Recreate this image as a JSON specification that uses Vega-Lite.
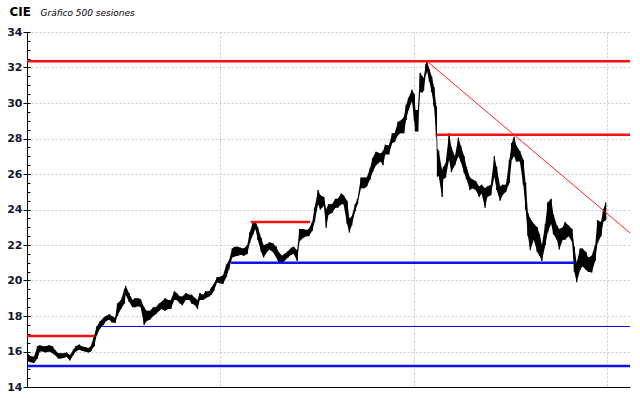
{
  "$schema": "https://vega.github.io/schema/vega-lite/v6.json",
  "width": 603,
  "height": 355,
  "autosize": "none",
  "padding": {"left": 27, "top": 32, "right": 10, "bottom": 11},
  "background": "white",
  "config": {"view": {"stroke": null}},
  "resolve": {"axis": {"y": "independent"}},
  "datasets": {
    "precios": [
      {"s":1,"lo":15.45,"hi":15.85},{"s":3,"lo":15.4,"hi":15.75},{"s":6,"lo":15.35,"hi":15.7},{"s":9,"lo":15.6,"hi":16.3},
      {"s":11,"lo":16.0,"hi":16.35},{"s":14,"lo":16.0,"hi":16.3},{"s":16,"lo":15.95,"hi":16.3},{"s":19,"lo":16.0,"hi":16.35},
      {"s":22,"lo":15.9,"hi":16.3},{"s":24,"lo":15.8,"hi":16.1},{"s":27,"lo":15.6,"hi":15.9},{"s":29,"lo":15.6,"hi":15.9},
      {"s":32,"lo":15.65,"hi":15.9},{"s":34,"lo":15.7,"hi":15.95},{"s":37,"lo":15.5,"hi":15.8},{"s":40,"lo":15.8,"hi":16.1},
      {"s":42,"lo":16.0,"hi":16.3},{"s":45,"lo":16.1,"hi":16.4},{"s":47,"lo":16.05,"hi":16.3},{"s":50,"lo":16.0,"hi":16.25},
      {"s":53,"lo":15.95,"hi":16.2},{"s":55,"lo":16.0,"hi":16.3},{"s":58,"lo":16.3,"hi":16.9},{"s":60,"lo":16.9,"hi":17.4},
      {"s":63,"lo":17.3,"hi":17.7},{"s":66,"lo":17.5,"hi":17.9},{"s":68,"lo":17.7,"hi":18.0},{"s":71,"lo":17.8,"hi":18.1},
      {"s":73,"lo":17.65,"hi":18.0},{"s":76,"lo":17.6,"hi":17.9},{"s":78,"lo":18.0,"hi":18.7},{"s":81,"lo":18.4,"hi":18.9},
      {"s":84,"lo":18.7,"hi":19.5},{"s":85,"lo":19.2,"hi":19.7},{"s":88,"lo":18.8,"hi":19.3},{"s":91,"lo":18.5,"hi":18.9},
      {"s":93,"lo":18.5,"hi":19.0},{"s":96,"lo":18.55,"hi":19.0},{"s":98,"lo":18.5,"hi":18.95},{"s":101,"lo":17.5,"hi":18.5},
      {"s":103,"lo":17.7,"hi":18.3},{"s":106,"lo":17.8,"hi":18.3},{"s":109,"lo":18.0,"hi":18.5},{"s":111,"lo":18.1,"hi":18.5},
      {"s":114,"lo":18.3,"hi":18.7},{"s":116,"lo":18.4,"hi":18.8},{"s":119,"lo":18.3,"hi":19.0},{"s":122,"lo":18.4,"hi":18.9},
      {"s":124,"lo":18.4,"hi":18.9},{"s":127,"lo":18.9,"hi":19.4},{"s":129,"lo":18.9,"hi":19.3},{"s":132,"lo":18.7,"hi":19.1},
      {"s":134,"lo":18.6,"hi":19.1},{"s":137,"lo":18.9,"hi":19.3},{"s":140,"lo":18.9,"hi":19.2},{"s":142,"lo":18.7,"hi":19.2},
      {"s":145,"lo":18.6,"hi":19.0},{"s":147,"lo":18.4,"hi":18.9},{"s":149,"lo":18.9,"hi":19.3},{"s":152,"lo":18.9,"hi":19.2},
      {"s":154,"lo":19.0,"hi":19.4},{"s":157,"lo":19.1,"hi":19.4},{"s":159,"lo":19.2,"hi":19.6},{"s":161,"lo":19.4,"hi":19.8},
      {"s":164,"lo":19.9,"hi":20.2},{"s":166,"lo":19.85,"hi":20.2},{"s":169,"lo":19.8,"hi":20.3},{"s":172,"lo":20.2,"hi":20.9},
      {"s":174,"lo":20.6,"hi":21.1},{"s":177,"lo":21.3,"hi":21.8},{"s":179,"lo":21.35,"hi":21.9},{"s":182,"lo":21.4,"hi":21.9},
      {"s":184,"lo":21.45,"hi":21.85},{"s":187,"lo":21.4,"hi":21.8},{"s":190,"lo":21.5,"hi":22.0},{"s":192,"lo":22.1,"hi":22.7},
      {"s":195,"lo":22.6,"hi":23.3},{"s":197,"lo":22.9,"hi":23.35},{"s":199,"lo":22.3,"hi":23.0},{"s":202,"lo":21.6,"hi":22.4},
      {"s":204,"lo":21.3,"hi":22.0},{"s":207,"lo":21.6,"hi":22.05},{"s":209,"lo":21.75,"hi":22.15},{"s":212,"lo":21.6,"hi":22.1},
      {"s":215,"lo":21.3,"hi":21.9},{"s":217,"lo":21.0,"hi":21.6},{"s":220,"lo":20.95,"hi":21.4},{"s":222,"lo":21.1,"hi":21.5},
      {"s":225,"lo":21.3,"hi":21.65},{"s":228,"lo":21.45,"hi":21.85},{"s":230,"lo":21.5,"hi":21.9},{"s":233,"lo":21.1,"hi":21.7},
      {"s":235,"lo":22.2,"hi":22.9},{"s":238,"lo":22.4,"hi":22.9},{"s":241,"lo":22.5,"hi":22.85},{"s":243,"lo":22.5,"hi":22.9},
      {"s":246,"lo":22.8,"hi":23.3},{"s":248,"lo":23.3,"hi":24.1},{"s":251,"lo":24.3,"hi":25.1},{"s":253,"lo":24.0,"hi":24.8},
      {"s":256,"lo":24.2,"hi":24.7},{"s":258,"lo":22.97,"hi":24.0},{"s":260,"lo":23.7,"hi":24.3},{"s":263,"lo":23.8,"hi":24.3},
      {"s":266,"lo":24.1,"hi":24.6},{"s":268,"lo":24.1,"hi":24.6},{"s":271,"lo":24.3,"hi":24.9},{"s":273,"lo":24.3,"hi":24.8},
      {"s":276,"lo":23.2,"hi":24.5},{"s":278,"lo":22.7,"hi":23.5},{"s":280,"lo":23.1,"hi":23.6},{"s":283,"lo":23.9,"hi":24.3},
      {"s":285,"lo":24.3,"hi":24.6},{"s":288,"lo":25.2,"hi":25.8},{"s":291,"lo":25.2,"hi":25.8},{"s":293,"lo":25.3,"hi":25.8},
      {"s":296,"lo":25.7,"hi":26.35},{"s":298,"lo":26.1,"hi":26.9},{"s":301,"lo":26.5,"hi":27.25},{"s":303,"lo":26.6,"hi":27.2},
      {"s":305,"lo":26.7,"hi":27.15},{"s":307,"lo":26.5,"hi":27.3},{"s":309,"lo":27.1,"hi":27.65},{"s":312,"lo":27.1,"hi":27.6},
      {"s":315,"lo":27.75,"hi":28.3},{"s":317,"lo":27.8,"hi":28.3},{"s":320,"lo":28.2,"hi":28.95},{"s":322,"lo":28.3,"hi":29.0},
      {"s":325,"lo":28.3,"hi":29.2},{"s":327,"lo":29.05,"hi":29.9},{"s":329,"lo":29.6,"hi":30.3},{"s":332,"lo":30.1,"hi":30.75},
      {"s":334,"lo":29.0,"hi":30.5},{"s":335,"lo":28.4,"hi":29.6},{"s":337,"lo":28.4,"hi":29.6},{"s":339,"lo":30.6,"hi":31.7},
      {"s":341,"lo":30.6,"hi":31.5},{"s":342,"lo":30.7,"hi":31.4},{"s":344,"lo":31.6,"hi":32.2},{"s":345,"lo":31.8,"hi":32.35},
      {"s":347,"lo":31.2,"hi":31.9},{"s":349,"lo":30.6,"hi":31.5},{"s":351,"lo":29.8,"hi":30.9},{"s":353,"lo":28.1,"hi":29.8},
      {"s":354,"lo":25.85,"hi":27.4},{"s":355,"lo":25.9,"hi":27.3},{"s":358,"lo":24.7,"hi":26.2},{"s":359,"lo":25.7,"hi":26.4},
      {"s":361,"lo":25.8,"hi":26.6},{"s":364,"lo":26.8,"hi":28.3},{"s":366,"lo":26.1,"hi":27.5},{"s":369,"lo":26.5,"hi":27.0},
      {"s":372,"lo":27.0,"hi":28.05},{"s":374,"lo":26.7,"hi":27.6},{"s":377,"lo":26.05,"hi":27.0},{"s":379,"lo":25.7,"hi":26.4},
      {"s":382,"lo":25.1,"hi":25.8},{"s":384,"lo":25.2,"hi":25.7},{"s":387,"lo":25.1,"hi":25.6},{"s":390,"lo":24.7,"hi":25.3},
      {"s":392,"lo":24.9,"hi":25.4},{"s":395,"lo":24.1,"hi":25.2},{"s":397,"lo":24.7,"hi":25.3},{"s":400,"lo":24.8,"hi":25.4},
      {"s":403,"lo":25.85,"hi":27.0},{"s":405,"lo":25.1,"hi":26.4},{"s":408,"lo":24.5,"hi":25.3},{"s":410,"lo":24.8,"hi":25.4},
      {"s":413,"lo":25.0,"hi":25.4},{"s":416,"lo":25.5,"hi":26.8},{"s":418,"lo":26.8,"hi":27.75},{"s":420,"lo":27.0,"hi":28.1},
      {"s":422,"lo":26.7,"hi":27.6},{"s":425,"lo":26.7,"hi":27.3},{"s":428,"lo":25.4,"hi":26.8},{"s":430,"lo":24.0,"hi":25.5},
      {"s":432,"lo":22.5,"hi":23.8},{"s":434,"lo":21.7,"hi":23.5},{"s":437,"lo":22.3,"hi":23.2},{"s":440,"lo":21.6,"hi":23.0},
      {"s":442,"lo":21.4,"hi":22.6},{"s":444,"lo":21.1,"hi":22.0},{"s":447,"lo":22.0,"hi":23.2},{"s":449,"lo":22.7,"hi":24.4},
      {"s":452,"lo":23.2,"hi":24.6},{"s":454,"lo":22.6,"hi":23.7},{"s":457,"lo":22.3,"hi":23.1},{"s":459,"lo":21.75,"hi":22.9},
      {"s":462,"lo":22.3,"hi":23.0},{"s":464,"lo":22.3,"hi":23.3},{"s":467,"lo":22.5,"hi":23.1},{"s":470,"lo":22.2,"hi":22.9},
      {"s":472,"lo":20.5,"hi":21.9},{"s":474,"lo":19.9,"hi":21.0},{"s":477,"lo":20.6,"hi":21.8},{"s":479,"lo":20.8,"hi":21.8},
      {"s":482,"lo":20.6,"hi":21.6},{"s":484,"lo":20.5,"hi":21.3},{"s":487,"lo":20.45,"hi":21.4},{"s":490,"lo":21.1,"hi":22.0},
      {"s":492,"lo":22.1,"hi":23.4},{"s":495,"lo":22.5,"hi":23.3},{"s":497,"lo":23.3,"hi":24.0},{"s":499,"lo":23.4,"hi":24.4}
    ]
  },
  "layer": [
    {
      "data": {"name": "precios"},
      "mark": {"type": "area", "color": "black"},
      "encoding": {
        "x": {"field": "s", "type": "quantitative", "scale": {"domain": [0, 520], "nice": false, "zero": false},
          "axis": {"values": [166.67, 333.33, 500], "labels": false, "ticks": false, "domain": true, "domainColor": "black", "domainWidth": 1,
            "grid": true, "gridColor": "#c8c8c8", "gridDash": [2, 2], "gridWidth": 1,
            "title": "Gráfico 500 sesiones", "titleX": 13, "titleY": -372, "titleAlign": "left", "titleBaseline": "alphabetic", "titleAnchor": null,
            "titleFont": "DejaVu Sans", "titleFontSize": 9, "titleFontStyle": "italic", "titleFontWeight": "normal", "titleColor": "black"}},
        "y": {"field": "lo", "type": "quantitative", "scale": {"domain": [14, 34], "nice": false, "zero": false},
          "axis": {"values": [14,16,18,20,22,24,26,28,30,32,34], "labelOverlap": false,
            "tickSize": 4, "tickColor": "black", "domainColor": "black",
            "grid": true, "gridColor": "#c8c8c8", "gridDash": [2, 2],
            "labelFont": "DejaVu Sans", "labelFontSize": 11, "labelFontWeight": "bold", "labelColor": "#151530", "labelPadding": 1,
            "title": "CIE", "titleAngle": 0, "titleX": -18, "titleY": -17, "titleAlign": "left", "titleBaseline": "alphabetic", "titleAnchor": null,
            "titleFont": "DejaVu Sans", "titleFontSize": 12, "titleFontWeight": "bold", "titleColor": "black"}},
        "y2": {"field": "hi"}
      }
    },
    {
      "data": {"name": "precios"},
      "mark": {"type": "rule", "color": "black", "strokeWidth": 1.3},
      "encoding": {
        "x": {"field": "s", "type": "quantitative"},
        "y": {"field": "lo", "type": "quantitative",
          "axis": {"orient": "left", "offset": 0, "values": [14,14.5,15,15.5,16,16.5,17,17.5,18,18.5,19,19.5,20,20.5,21,21.5,22,22.5,23,23.5,24,24.5,25,25.5,26,26.5,27,27.5,28,28.5,29,29.5,30,30.5,31,31.5,32,32.5,33,33.5,34],
            "labels": false, "domain": false, "grid": false, "ticks": true, "tickSize": -3, "tickColor": "black", "title": null}},
        "y2": {"field": "hi"}
      }
    },
    {
      "data": {"values": [{"desde": 0, "hasta": 520, "precio": 32.35}, {"desde": 353, "hasta": 520, "precio": 28.21}, {"desde": 193, "hasta": 244, "precio": 23.3}, {"desde": 0, "hasta": 58, "precio": 16.87}]},
      "mark": {"type": "rule", "color": "#f21010", "strokeWidth": 2.6},
      "encoding": {
        "x": {"field": "desde", "type": "quantitative"},
        "x2": {"field": "hasta"},
        "y": {"field": "precio", "type": "quantitative", "axis": null}
      }
    },
    {
      "data": {"values": [{"desde": 176, "hasta": 472, "precio": 21.0}, {"desde": 0, "hasta": 520, "precio": 15.18}]},
      "mark": {"type": "rule", "color": "#1010f2", "strokeWidth": 2.6},
      "encoding": {
        "x": {"field": "desde", "type": "quantitative"},
        "x2": {"field": "hasta"},
        "y": {"field": "precio", "type": "quantitative", "axis": null}
      }
    },
    {
      "data": {"values": [{"desde": 65, "hasta": 520, "precio": 17.41}]},
      "mark": {"type": "rule", "color": "#0000ee", "strokeWidth": 1},
      "encoding": {
        "x": {"field": "desde", "type": "quantitative"},
        "x2": {"field": "hasta"},
        "y": {"field": "precio", "type": "quantitative", "axis": null}
      }
    },
    {
      "data": {"values": [{"s": 345, "precio": 32.35}, {"s": 520, "precio": 22.68}]},
      "mark": {"type": "line", "color": "#ff2020", "strokeWidth": 1},
      "encoding": {
        "x": {"field": "s", "type": "quantitative"},
        "y": {"field": "precio", "type": "quantitative", "axis": null}
      }
    }
  ]
}
